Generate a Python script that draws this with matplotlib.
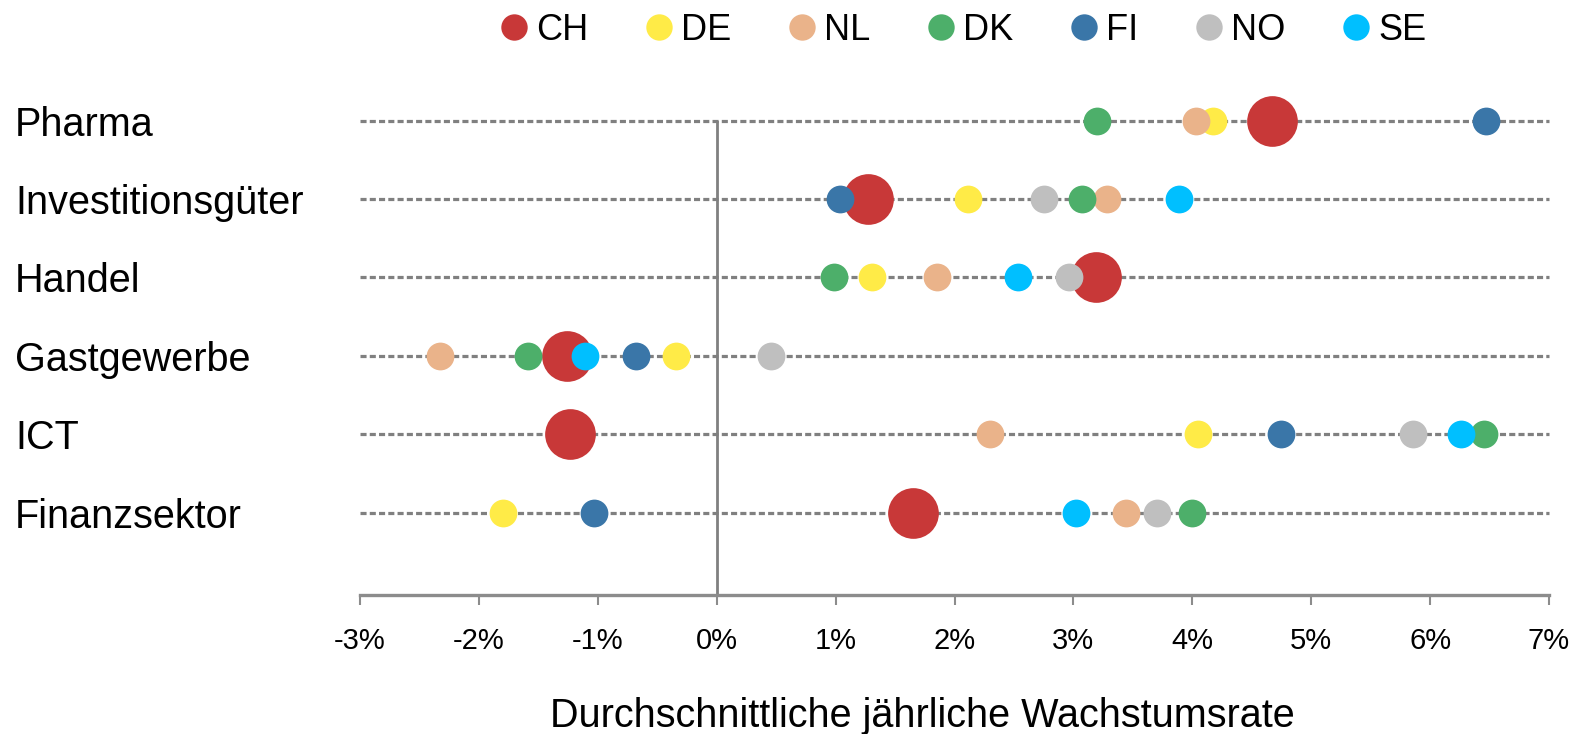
import matplotlib
matplotlib.use("Agg")
import matplotlib.pyplot as plt
from matplotlib.lines import Line2D

plt.rcParams['font.family'] = ['Liberation Sans', 'DejaVu Sans']

# Data: average annual growth rate (%) by sector and country
sectors = ['Pharma', 'Investitionsgüter', 'Handel', 'Gastgewerbe', 'ICT', 'Finanzsektor']
countries = ['CH', 'DE', 'NL', 'DK', 'FI', 'NO', 'SE']

CH = [4.67, 1.27, 3.19, -1.26, -1.23, 1.65]
DE = [4.17, 2.11, 1.31, -0.34, 4.05, -1.80]
NL = [4.03, 3.28, 1.85, -2.33, 2.30, 3.44]
DK = [3.20, 3.07, 0.99, -1.59, 6.45, 4.00]
FI = [6.47, 1.04, None, -0.68, 4.75, -1.03]
NO = [None, 2.75, 2.96, 0.46, 5.86, 3.70]
SE = [None, 3.89, 2.53, -1.11, 6.26, 3.02]

xticks = [-3, -2, -1, 0, 1, 2, 3, 4, 5, 6, 7]

colors = {
    'CH': '#C83838',
    'DE': '#FFEB47',
    'NL': '#EAB38A',
    'DK': '#4DAF6A',
    'FI': '#3A76A8',
    'NO': '#BFBFBF',
    'SE': '#00BFFF',
}
series = {'CH': CH, 'DE': DE, 'NL': NL, 'DK': DK, 'FI': FI, 'NO': NO, 'SE': SE}

W, H = 1589, 734
fig = plt.figure(figsize=(W / 100, H / 100), dpi=100)
ax = fig.add_axes([360 / W, (H - 595) / H, (1549 - 360) / W, (595 - 120.6) / H])

ypos = list(range(len(sectors), 0, -1))  # Pharma on top

# dashed row lines
for y in ypos:
    ax.plot([xticks[0], xticks[-1]], [y, y], color='#808080', lw=2.3,
            linestyle=(0, (1.9, 1.0)), zorder=1, clip_on=False,
            solid_capstyle='butt', dash_capstyle='butt')

ax.axvline(0, color='#808080', lw=2.0, zorder=1.5)

for c in countries:
    vals = series[c]
    xs = [v for v in vals if v is not None]
    ys = [y for v, y in zip(vals, ypos) if v is not None]
    ms = 36.5 if c == 'CH' else 20
    ax.plot(xs, ys, 'o', color=colors[c], markersize=ms, markeredgewidth=0,
            linestyle='none', zorder=3, clip_on=False)

ax.set_xlim(xticks[0], xticks[-1])
ax.set_ylim(-0.05, len(sectors))

for s in ['top', 'right', 'left']:
    ax.spines[s].set_visible(False)
ax.spines['bottom'].set_color('#8C8C8C')
ax.spines['bottom'].set_linewidth(2.4)

ax.set_xticks(xticks)
ax.set_xticklabels([f'{t}%' for t in xticks], fontsize=21)
ax.tick_params(axis='x', direction='out', length=7, width=1.5, color='#8C8C8C', pad=16)

ax.set_yticks(ypos)
ax.set_yticklabels(sectors, fontsize=28.5, ha='left')
ax.tick_params(axis='y', length=0, pad=248.4)

fig.text(922 / W, 1 - 727 / H, 'Durchschnittliche jährliche Wachstumsrate',
         ha='center', va='baseline', fontsize=28.5)

handles = [Line2D([], [], marker='o', linestyle='none', color=colors[c],
                  markersize=19, markeredgewidth=0) for c in countries]
fig.legend(handles, countries, loc='center left', bbox_to_anchor=(501 / W, 1 - 30 / H),
           ncol=len(countries), frameon=False, fontsize=26, handlelength=0.72,
           handletextpad=0.25, columnspacing=1.6, borderpad=0, borderaxespad=0)

fig.savefig('out.png', dpi=100)
